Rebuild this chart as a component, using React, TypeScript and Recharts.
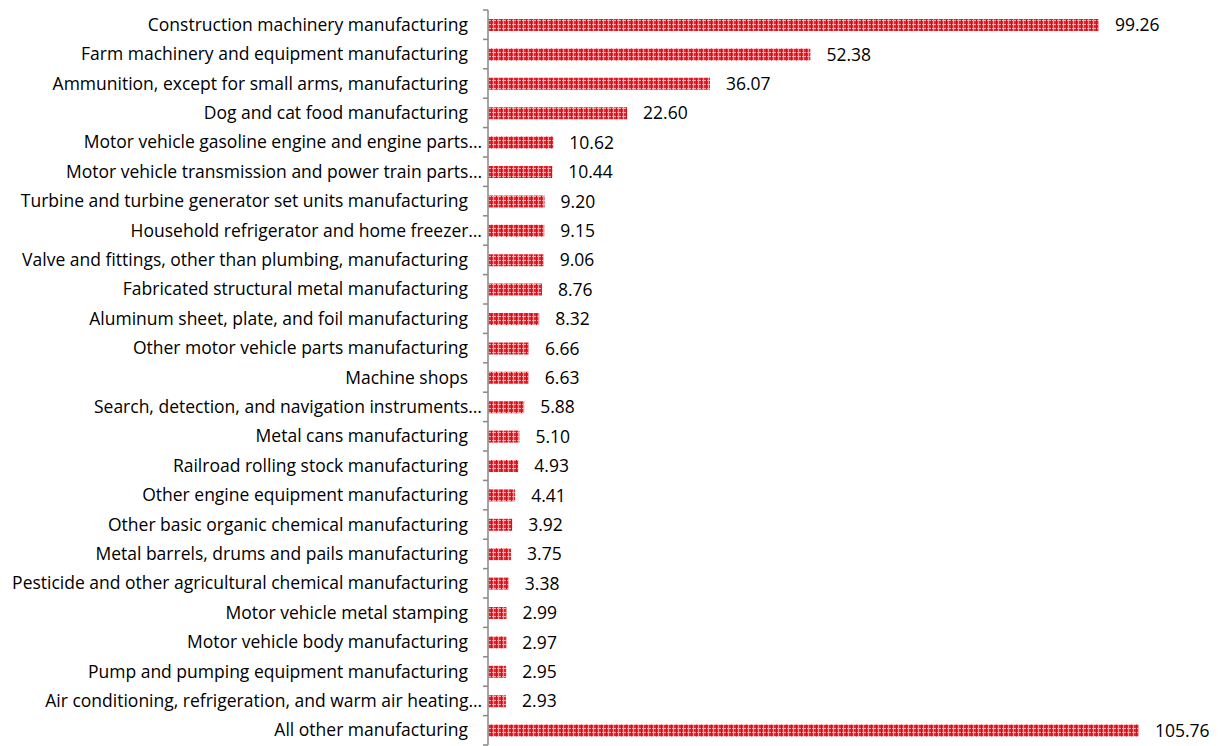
import React from "react";
import { BarChart, Bar, XAxis, YAxis, LabelList } from "recharts";

const categories = [
  "Construction machinery manufacturing",
  "Farm machinery and equipment manufacturing",
  "Ammunition, except for small arms, manufacturing",
  "Dog and cat food manufacturing",
  "Motor vehicle gasoline engine and engine parts…",
  "Motor vehicle transmission and power train parts…",
  "Turbine and turbine generator set units manufacturing",
  "Household refrigerator and home freezer…",
  "Valve and fittings, other than plumbing, manufacturing",
  "Fabricated structural metal manufacturing",
  "Aluminum sheet, plate, and foil manufacturing",
  "Other motor vehicle parts manufacturing",
  "Machine shops",
  "Search, detection, and navigation instruments…",
  "Metal cans manufacturing",
  "Railroad rolling stock manufacturing",
  "Other engine equipment manufacturing",
  "Other basic organic chemical manufacturing",
  "Metal barrels, drums and pails manufacturing",
  "Pesticide and other agricultural chemical manufacturing",
  "Motor vehicle metal stamping",
  "Motor vehicle body manufacturing",
  "Pump and pumping equipment manufacturing",
  "Air conditioning, refrigeration, and warm air heating…",
  "All other manufacturing",
];

const values = [
  99.26, 52.38, 36.07, 22.6, 10.62, 10.44, 9.2, 9.15, 9.06, 8.76, 8.32, 6.66,
  6.63, 5.88, 5.1, 4.93, 4.41, 3.92, 3.75, 3.38, 2.99, 2.97, 2.95, 2.93, 105.76,
];

const data = categories.map((name, i) => ({ name, value: values[i] }));

const FONT = "'Open Sans', sans-serif";

const Tick = (props: any) => {
  const { x, y, payload, index, visibleTicksCount } = props;
  const half = payload && payload.offset ? payload.offset : 14.7;
  const label = String(payload.value);
  const truncated = label.endsWith("…");
  return (
    <g>
      <line x1={x - 5} x2={x} y1={y - half} y2={y - half} stroke="#888" strokeWidth={1.5} />
      {index === visibleTicksCount - 1 && (
        <line x1={x - 5} x2={x} y1={y + half} y2={y + half} stroke="#888" strokeWidth={1.5} />
      )}
      <text
        x={truncated ? x - 6 : x - 20}
        y={y}
        dy={6}
        textAnchor="end"
        fill="#000"
        fontSize={17.5}
        fontFamily={FONT}
      >
        {label}
      </text>
    </g>
  );
};

export default function App() {
  return (
    <BarChart
      width={1210}
      height={738}
      data={data}
      layout="vertical"
      margin={{ top: 2, right: 53, bottom: 1, left: 0 }}
      barCategoryGap={0}
    >
      <defs>
        <pattern id="plaid" width="5" height="4" patternUnits="userSpaceOnUse">
          <rect width="5" height="4" fill="#e4262f" />
          <rect x="0" y="0" width="1" height="4" fill="#f29499" />
          <rect x="0" y="0" width="5" height="1" fill="#f5aaae" />
          <rect x="3" y="0" width="1" height="4" fill="#d0101a" />
        </pattern>
      </defs>
      <XAxis type="number" domain={[0, 110]} hide />
      <YAxis
        type="category"
        dataKey="name"
        width={480}
        interval={0}
        axisLine={{ stroke: "#888", strokeWidth: 1.5 }}
        tickLine={false}
        tickSize={0}
        tickMargin={0}
        tick={<Tick />}
      />
      <Bar dataKey="value" fill="url(#plaid)" barSize={12} isAnimationActive={false}>
        <LabelList
          dataKey="value"
          position="right"
          offset={16}
          formatter={(v: any) => Number(v).toFixed(2)}
          style={{ fontSize: 17.5, fontFamily: FONT, fill: "#000" }}
        />
      </Bar>
    </BarChart>
  );
}
